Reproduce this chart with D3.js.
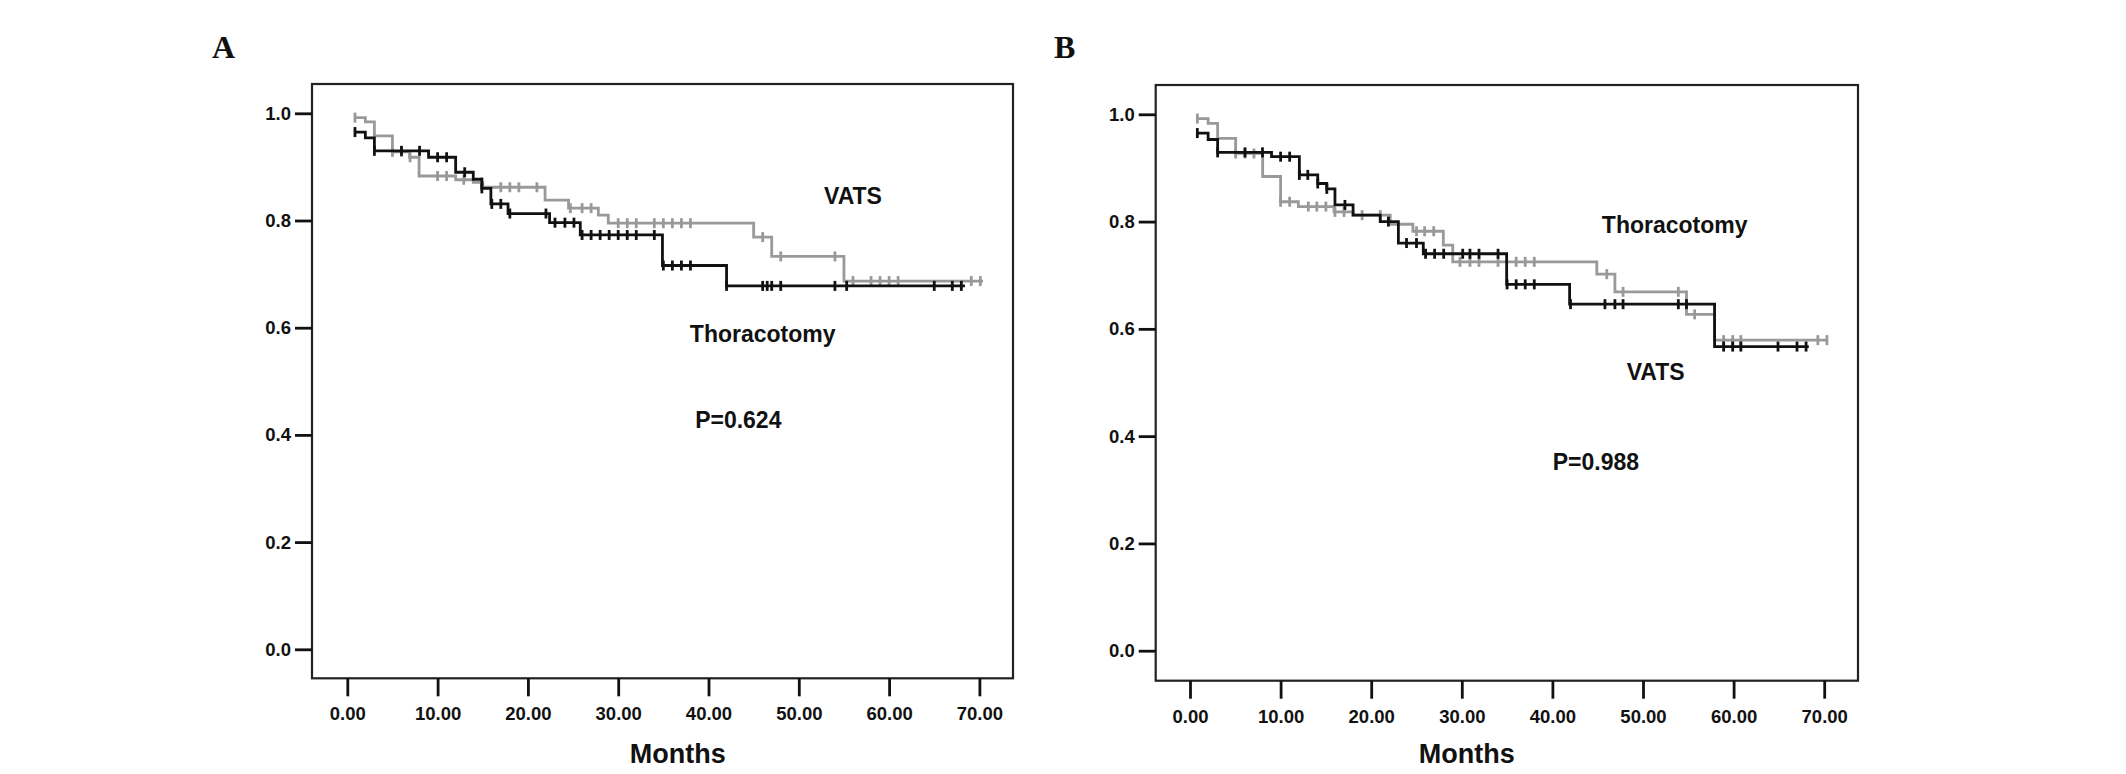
<!DOCTYPE html>
<html>
<head>
<meta charset="utf-8">
<script src="https://cdn.jsdelivr.net/npm/d3@7"></script>
<style>
  body { margin: 0; background: #fff; }
  text { font-family: 'Liberation Sans', Arial, sans-serif; font-weight: bold; fill: #111; }
  .panel-letter { font-family: 'Liberation Serif', 'Times New Roman', serif; font-size: 32px; }
  .axis text { font-size: 18.5px; }
  .axis line { stroke: #111; stroke-width: 2.8px; }
  .axis path { display: none; }
</style>
</head>
<body>
<script>
// [months, survival] where the curve steps down
var stepsVatsA = [[0.85, 0.992], [2.0, 0.984], [3.0, 0.958], [5.0, 0.928], [6.9, 0.918], [7.95, 0.883],
  [12.0, 0.876], [13.95, 0.871], [15.0, 0.862], [21.9, 0.838], [24.5, 0.823], [27.8, 0.810],
  [28.9, 0.795], [45.0, 0.769], [47.0, 0.733], [55.0, 0.687]];
var censorVatsA = [0.85, 5.0, 6.0, 6.95, 10.0, 11.0, 12.9, 14.9, 17.0, 18.0, 19.0, 21.0, 24.7, 26.0, 27.0,
  30.0, 31.0, 32.0, 34.0, 35.0, 36.0, 37.0, 38.0, 46.0, 48.0, 54.0, 56.0, 58.0, 59.0, 60.0, 61.0, 69.1, 70.1];

var stepsThorA = [[0.85, 0.965], [2.0, 0.954], [3.0, 0.930], [9.0, 0.918], [12.0, 0.890], [13.95, 0.877],
  [14.9, 0.860], [15.9, 0.831], [17.8, 0.813], [22.4, 0.796], [25.8, 0.773], [34.9, 0.716], [42.0, 0.678]];
var censorThorA = [0.85, 3.0, 6.0, 8.0, 10.0, 11.0, 13.0, 14.9, 16.0, 17.0, 18.0, 22.0, 23.0, 24.1, 25.1,
  26.0, 27.0, 28.0, 29.0, 30.0, 31.0, 32.0, 34.0, 35.0, 36.0, 37.0, 38.0, 42.0, 46.0, 46.5, 47.0, 48.0,
  54.0, 55.3, 65.0, 67.0, 68.0];

var stepsVatsB = [[0.81, 0.992], [2.0, 0.983], [3.05, 0.955], [5.04, 0.927], [8.02, 0.884], [10.0, 0.837],
  [11.96, 0.828], [15.9, 0.818], [18.0, 0.812], [22.1, 0.795], [24.6, 0.782], [27.96, 0.756],
  [29.0, 0.725], [44.9, 0.702], [46.9, 0.669], [54.8, 0.627], [57.9, 0.579]];
var censorVatsB = [0.81, 5.04, 6.07, 7.06, 10.0, 11.0, 13.06, 14.0, 15.0, 16.0, 17.0, 19.0, 21.0, 25.0,
  25.9, 26.9, 29.8, 30.9, 31.9, 34.0, 36.0, 37.0, 38.0, 46.0, 47.8, 53.9, 55.7, 58.9, 59.9, 60.8, 69.3, 70.3];

var stepsThorB = [[0.81, 0.965], [2.0, 0.953], [3.05, 0.929], [9.0, 0.921], [12.07, 0.887], [14.1, 0.871],
  [15.1, 0.861], [16.0, 0.831], [18.0, 0.812], [21.0, 0.800], [23.0, 0.760], [25.75, 0.740],
  [34.95, 0.683], [41.9, 0.646], [57.9, 0.567]];
var censorThorB = [0.81, 3.05, 6.07, 8.0, 10.0, 11.0, 12.07, 13.0, 14.1, 15.1, 17.1, 21.9, 23.9, 25.0,
  26.0, 27.0, 28.0, 30.1, 30.9, 31.9, 34.0, 35.0, 36.0, 37.0, 38.0, 42.0, 45.8, 46.9, 47.8, 53.9, 54.8,
  58.9, 59.9, 60.8, 64.9, 67.0, 68.0];

var lastFollowUp = { vatsA: 70.4, thorA: 68.4, vatsB: 70.4, thorB: 68.3 };

var xTicks = [0, 10, 20, 30, 40, 50, 60, 70];
var yTicks = [0, 0.2, 0.4, 0.6, 0.8, 1.0];

// label text with [months, survival] anchor
var labelsA = [['VATS', 56.0, 0.831], ['Thoracotomy', 46.0, 0.574], ['P=0.624', 43.3, 0.412]];
var labelsB = [['Thoracotomy', 53.5, 0.779], ['VATS', 51.4, 0.505], ['P=0.988', 44.8, 0.337]];

const width = 2126;
const height = 774;
const vatsColor = '#999';
const thorColor = '#111';

var svg = d3.select('body').append('svg')
  .attr('width', width)
  .attr('height', height);

svg.append('rect').attr('width', width).attr('height', height).attr('fill', '#fff');

drawPanel({
  letter: 'A', letterX: 212,
  left: 312, right: 1013, top: 84, bottom: 678.3,
  x0: 347.3, x70: 979.4, y0: 649.3, y1: 113.3,
  monthsX: 677.7,
  vats: stepsVatsA, vatsCensor: censorVatsA, vatsEnd: lastFollowUp.vatsA,
  thor: stepsThorA, thorCensor: censorThorA, thorEnd: lastFollowUp.thorA,
  labels: labelsA
});

drawPanel({
  letter: 'B', letterX: 1054,
  left: 1155.7, right: 1858, top: 85, bottom: 680.7,
  x0: 1190, x70: 1824.2, y0: 650.7, y1: 114.3,
  monthsX: 1466.7,
  vats: stepsVatsB, vatsCensor: censorVatsB, vatsEnd: lastFollowUp.vatsB,
  thor: stepsThorB, thorCensor: censorThorB, thorEnd: lastFollowUp.thorB,
  labels: labelsB
});

function drawPanel(p) {
  var x = d3.scaleLinear().domain([0, 70]).range([p.x0, p.x70]);
  var y = d3.scaleLinear().domain([0, 1]).range([p.y0, p.y1]);
  var g = svg.append('g');

  g.append('text')
    .attr('class', 'panel-letter')
    .attr('x', p.letterX)
    .attr('y', 58)
    .text(p.letter);

  g.append('rect')
    .attr('x', p.left)
    .attr('y', p.top)
    .attr('width', p.right - p.left)
    .attr('height', p.bottom - p.top)
    .attr('fill', 'none')
    .attr('stroke', '#222')
    .attr('stroke-width', 2.2);

  g.append('g')
    .attr('class', 'axis')
    .attr('transform', 'translate(0,' + p.bottom + ')')
    .call(d3.axisBottom(x).tickValues(xTicks).tickFormat(d3.format('.2f'))
      .tickSize(18).tickSizeOuter(0).tickPadding(11));

  g.append('g')
    .attr('class', 'axis')
    .attr('transform', 'translate(' + p.left + ',0)')
    .call(d3.axisLeft(y).tickValues(yTicks).tickFormat(d3.format('.1f'))
      .tickSize(17).tickSizeOuter(0).tickPadding(4));

  drawCurve(g, x, y, p.vats, p.vatsCensor, p.vatsEnd, vatsColor);
  drawCurve(g, x, y, p.thor, p.thorCensor, p.thorEnd, thorColor);

  g.selectAll('.curve-label')
    .data(p.labels)
    .enter().append('text')
    .attr('class', 'curve-label')
    .attr('x', function(d) { return x(d[1]); })
    .attr('y', function(d) { return y(d[2]); })
    .attr('text-anchor', 'middle')
    .style('font-size', '23px')
    .text(function(d) { return d[0]; });

  g.append('text')
    .attr('x', p.monthsX)
    .attr('y', 763)
    .attr('text-anchor', 'middle')
    .style('font-size', '27px')
    .text('Months');
}

function drawCurve(g, x, y, steps, censored, end, color) {
  var points = steps.concat([[end, steps[steps.length - 1][1]]]);
  var bisect = d3.bisector(function(d) { return d[0]; }).right;
  var survivalAt = function(t) {
    return steps[Math.max(0, bisect(steps, t) - 1)][1];
  };

  g.append('path')
    .datum(points)
    .attr('fill', 'none')
    .attr('stroke', color)
    .attr('stroke-width', 2.8)
    .attr('d', d3.line()
      .x(function(d) { return x(d[0]); })
      .y(function(d) { return y(d[1]); })
      .curve(d3.curveStepAfter));

  g.selectAll(null)
    .data(censored)
    .enter().append('line')
    .attr('x1', function(d) { return x(d); })
    .attr('x2', function(d) { return x(d); })
    .attr('y1', function(d) { return y(survivalAt(d)) - 5; })
    .attr('y2', function(d) { return y(survivalAt(d)) + 5; })
    .attr('stroke', color)
    .attr('stroke-width', 2.8);
}
</script>
</body>
</html>
